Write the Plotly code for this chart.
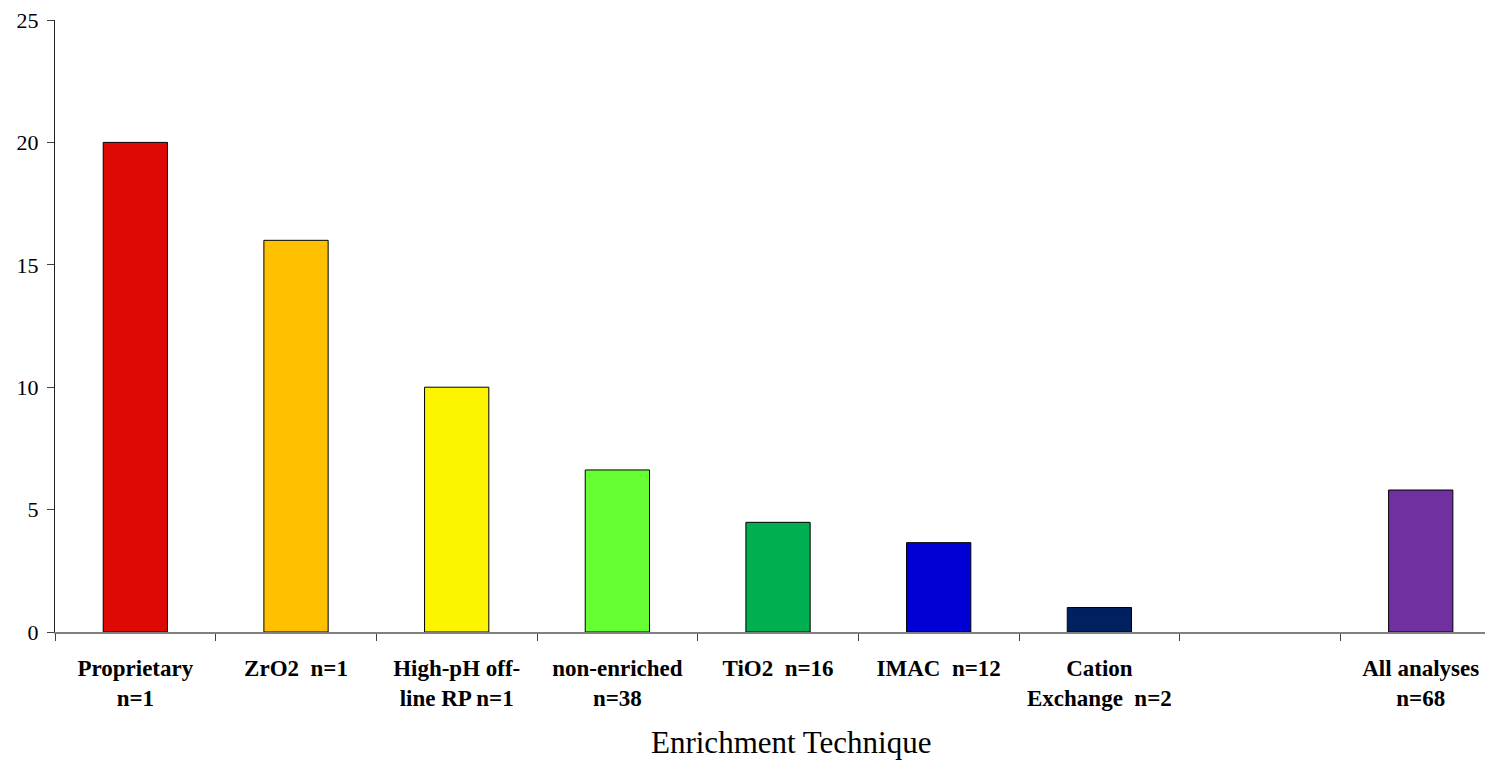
import plotly.graph_objects as go

categories = [
    "<b>Proprietary</b><br><b>n=1</b>",
    "<b>ZrO2\u00a0\u00a0n=1</b>",
    "<b>High-pH off-</b><br><b>line RP n=1</b>",
    "<b>non-enriched</b><br><b>n=38</b>",
    "<b>TiO2\u00a0\u00a0n=16</b>",
    "<b>IMAC\u00a0\u00a0n=12</b>",
    "<b>Cation</b><br><b>Exchange\u00a0\u00a0n=2</b>",
    " ",
    "<b>All analyses</b><br><b>n=68</b>",
]
values = [20.0, 16.0, 10.0, 6.62, 4.48, 3.65, 1.0, None, 5.8]
colors = ["#DE0805", "#FFC000", "#FDF400", "#66FF33", "#00B050",
          "#0000D4", "#002060", "#FFFFFF", "#7030A0"]
y_ticks = [0, 5, 10, 15, 20, 25]
x_title = "Enrichment Technique"

fig = go.Figure(
    go.Bar(
        x=categories,
        y=values,
        marker=dict(color=colors, line=dict(color="#000000", width=1)),
        width=0.4,
        showlegend=False,
        hoverinfo="skip",
    )
)

fig.update_layout(
    width=1485,
    height=760,
    margin=dict(l=55, r=0, t=20, b=128),
    paper_bgcolor="white",
    plot_bgcolor="white",
    font=dict(family="Liberation Serif", color="black", size=20),
)

fig.update_xaxes(
    type="category",
    range=[-0.5, 8.4],
    autorange=False,
    tickson="boundaries",
    ticks="outside",
    ticklen=7,
    tickcolor="#404040",
    tickwidth=1,
    showline=True,
    linecolor="#808080",
    linewidth=2,
    showgrid=False,
    tickfont=dict(family="Liberation Serif", size=23, color="black"),
    ticklabelstandoff=14,
    ticklabeloverflow="allow",
    fixedrange=True,
)

fig.update_yaxes(
    range=[0, 25],
    autorange=False,
    tickvals=y_ticks,
    ticks="outside",
    ticklen=7,
    tickcolor="#404040",
    showline=True,
    linecolor="#202020",
    linewidth=1,
    showgrid=False,
    zeroline=False,
    tickfont=dict(family="Liberation Serif", size=22, color="black"),
    ticklabelstandoff=4,
    ticklabeloverflow="allow",
    fixedrange=True,
)

fig.add_annotation(
    text=x_title,
    xref="paper", yref="paper",
    x=0.515, y=-0.18,
    xanchor="center", yanchor="middle",
    showarrow=False,
    font=dict(family="Liberation Serif", size=31, color="black"),
)

fig.write_html(
    "out.html",
    config={"displayModeBar": False, "staticPlot": True},
    post_script="document.body.style.margin='0';document.body.style.overflow='hidden';",
)
